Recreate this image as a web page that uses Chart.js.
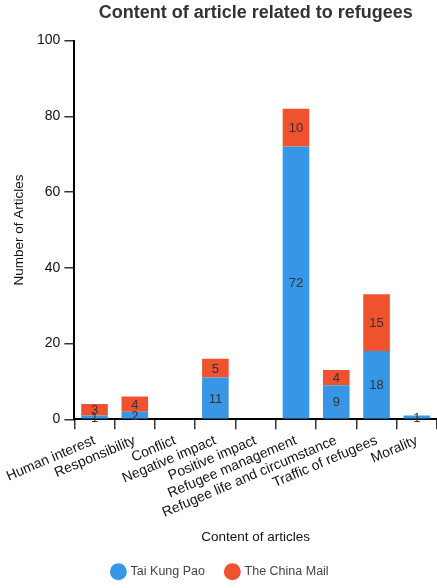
<!DOCTYPE html>
<html>
<head>
<meta charset="utf-8">
<script src="https://cdn.jsdelivr.net/npm/chart.js@4"></script>
<style>
  html,body{margin:0;padding:0;background:#fff;}
  #wrap{width:437px;height:588px;}
</style>
</head>
<body>
<div id="wrap"><canvas id="c" width="437" height="588"></canvas></div>
<script>
/* ---- DATA ---- */
const categories = ["Human interest","Responsibility","Conflict","Negative impact","Positive impact",
  "Refugee management","Refugee life and circumstance","Traffic of refugees","Morality"];
const taiKungPao = [1, 2, 0, 11, 0, 72, 9, 18, 1];
const chinaMail  = [3, 4, 0, 5, 0, 10, 4, 15, 0];
const yTicks = [0, 20, 40, 60, 80, 100];

const FONT = "'Liberation Sans', Arial, Helvetica, sans-serif";

// 막대 가운데에 값 표시 (0은 생략)
const segmentLabels = {
  id:"segmentLabels",
  afterDatasetsDraw(chart){
    const ctx = chart.ctx;
    ctx.save();
    ctx.font = "13px " + FONT;
    ctx.fillStyle = "#333";
    ctx.textAlign = "center";
    ctx.textBaseline = "middle";
    chart.data.datasets.forEach((ds, di)=>{
      chart.getDatasetMeta(di).data.forEach((bar, i)=>{
        const v = ds.data[i];
        if(!v) return;
        ctx.fillText(String(v), bar.x, (bar.y + bar.base)/2 + 1);
      });
    });
    ctx.restore();
  }
};

new Chart(document.getElementById("c"), {
  type:"bar",
  data:{
    labels:categories,
    datasets:[
      {label:"Tai Kung Pao", data:taiKungPao, backgroundColor:"#3797e6", barPercentage:0.66, categoryPercentage:1},
      {label:"The China Mail", data:chinaMail, backgroundColor:"#f0512f", barPercentage:0.66, categoryPercentage:1},
    ]
  },
  plugins:[segmentLabels],
  options:{
    responsive:false,
    animation:false,
    layout:{padding:{left:4, right:0, top:0, bottom:0}},
    plugins:{
      title:{display:true, text:"Content of article related to refugees", fullSize:false,
        font:{size:18, weight:"bold", family:FONT}, color:"#333", padding:{top:2, bottom:17}},
      legend:{position:"bottom", labels:{usePointStyle:true, pointStyle:"circle", boxWidth:12, boxHeight:12,
        padding:4, font:{size:12.5, family:FONT}, color:"#444",
        // 항목 사이 간격은 padding 대신 공백으로 (세로 높이를 늘리지 않기 위해)
        generateLabels(chart){
          const items = Chart.defaults.plugins.legend.labels.generateLabels(chart);
          items.forEach((it, i)=>{ if(i < items.length-1) it.text += "     "; });
          return items;
        }}},
      tooltip:{enabled:false}
    },
    scales:{
      x:{
        stacked:true,
        border:{display:true, color:"#000", width:2},
        grid:{display:true, drawOnChartArea:false, drawTicks:true, tickLength:10, color:"#333", lineWidth:1.5},
        ticks:{minRotation:23, maxRotation:23, autoSkip:false, font:{size:14, family:FONT}, color:"#111", padding:3},
        title:{display:true, text:"Content of articles", font:{size:13.5, family:FONT}, color:"#111", padding:{top:5, bottom:16}}
      },
      y:{
        stacked:true, min:0, max:100,
        afterBuildTicks(axis){ axis.ticks = yTicks.map(v=>({value:v})); },
        border:{display:true, color:"#000", width:2},
        grid:{display:true, drawOnChartArea:false, drawTicks:true, tickLength:10, color:"#333", lineWidth:1.5},
        ticks:{font:{size:14, family:FONT}, color:"#111", padding:4},
        title:{display:true, text:"Number of Articles", font:{size:13.5, family:FONT}, color:"#111", padding:{top:0, bottom:6}}
      }
    }
  }
});
</script>
</body>
</html>
